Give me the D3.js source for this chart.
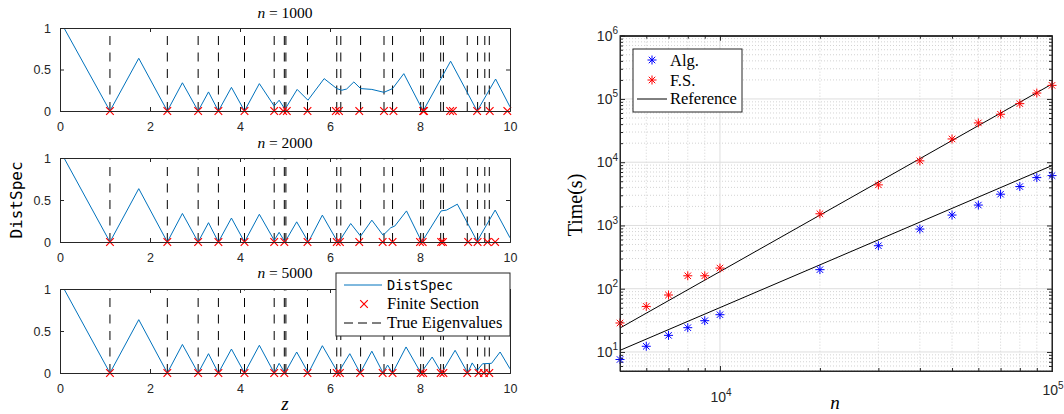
<!DOCTYPE html>
<html><head><meta charset="utf-8">
<script src="https://cdn.jsdelivr.net/npm/d3@7"></script>
<style>body{margin:0;background:#fff} svg{display:block}
.serif{font-family:"Liberation Serif","DejaVu Serif",serif}
</style>
</head><body><svg id="c" width="1064" height="414"></svg>
<script>
// ---------------- data: left panels ----------------
const trueEigenvalues = [1.11, 2.385, 3.07, 3.52, 4.10, 4.76, 4.985, 5.02, 5.50, 6.15, 6.24, 6.68, 7.20, 7.39, 8.015, 8.074, 8.46, 8.52, 9.05, 9.28, 9.44, 9.54];
const panelN = ["1000", "2000", "5000"];
const commonStart = [[0.09,1],[1.11,0],[1.75,0.635],[2.385,0],[2.72,0.34],[3.07,0],[3.30,0.23],[3.52,0],[3.81,0.285],[4.10,0],[4.43,0.33]];
const distSpec1000 = commonStart.concat([[4.76,0.06],[4.87,0.13],[5.0,0.02],[5.27,0.26],[5.51,0.13],[5.87,0.39],[6.15,0.27],[6.26,0.25],[6.37,0.265],[6.53,0.35],[6.68,0.27],[6.93,0.26],[7.2,0.225],[7.39,0.27],[7.64,0.45],[8.07,0],[8.68,0.60],[9.27,0],[9.68,0.385],[10,0.05]]);
const distSpec2000 = commonStart.concat([[4.76,0.02],[4.87,0.115],[5.0,0],[5.26,0.24],[5.52,0],[5.83,0.32],[6.17,0],[6.22,0.02],[6.46,0.22],[6.68,0.07],[6.93,0.26],[7.18,0.08],[7.35,0.17],[7.44,0.19],[7.70,0.37],[8.04,0],[8.47,0.37],[8.59,0.38],[8.83,0.45],[9.27,0.01],[9.67,0.38],[10,0.05]]);
const distSpec5000 = commonStart.concat([[4.76,0],[4.87,0.115],[5.0,0],[5.26,0.25],[5.52,0],[5.83,0.325],[6.18,0],[6.44,0.23],[6.67,0],[6.93,0.26],[7.18,0],[7.28,0.095],[7.39,0],[7.69,0.31],[8.02,0],[8.27,0.19],[8.48,0],[8.78,0.27],[9.06,0],[9.16,0.12],[9.27,0.03],[9.39,0.11],[9.59,0.115],[9.78,0.25],[10,0.05]]);
const fsCommon = [1.11, 2.385, 3.07, 3.52, 4.10];
const finiteSection1000 = fsCommon.concat([4.76, 4.96, 5.04, 5.50, 6.13, 6.20, 6.65, 7.20, 7.41, 8.07, 8.09, 8.67, 8.73, 9.27, 9.55, 9.94]);
const finiteSection2000 = fsCommon.concat([4.76, 4.985, 5.50, 6.15, 6.22, 6.65, 7.17, 7.39, 8.00, 8.06, 8.47, 8.51, 9.07, 9.28, 9.50, 9.67]);
const finiteSection5000 = fsCommon.concat([4.76, 4.985, 5.50, 6.15, 6.22, 6.67, 7.17, 7.39, 8.015, 8.07, 8.46, 8.52, 9.05, 9.30, 9.42, 9.54]);
const xTicksLeft = [0, 2, 4, 6, 8, 10];
const yTicksLeft = [0, 0.5, 1];
const yTickLabelsLeft = ["0", "0.5", "1"];

// ---------------- data: right panel ----------------
const sizesN = [5000, 6000, 7000, 8000, 9000, 10000, 20000, 30000, 40000, 50000, 60000, 70000, 80000, 90000, 100000];
const timeAlg = [7.6, 12.3, 18.3, 24.2, 31.2, 38.8, 200, 478, 877, 1460, 2100, 3120, 4120, 5710, 6140];
const timeFS = [28.7, 52.5, 79.5, 160, 160, 212, 1530, 4380, 10500, 23300, 41800, 57300, 84300, 124000, 164000];
const refAlgN = [5000, 100000], refAlgT = [10.6, 8840];
const refFSN = [5000, 100000], refFST = [23.9, 172000];
const yTickExpRight = [1, 2, 3, 4, 5, 6];
const xTickExpRight = [4, 5];

// ---------------- drawing ----------------
const svg = d3.select("#c");
const axisCol = "#262626";
const tickFont = "'Liberation Sans', Arial, sans-serif";
const mono = "'DejaVu Sans Mono', monospace";
const blue = "#0072BD";

const xL = d3.scaleLinear().domain([0, 10]).range([60, 510]);
const panels = [{top: 28, bottom: 111}, {top: 158, bottom: 242}, {top: 289, bottom: 373}];
const distData = [distSpec1000, distSpec2000, distSpec5000];
const fsData = [finiteSection1000, finiteSection2000, finiteSection5000];
const titleBase = [18, 148, 278];

const xMark = (g, cx, cy, r, col) => g.append("path")
  .attr("d", `M${cx-r},${cy-r}L${cx+r},${cy+r}M${cx-r},${cy+r}L${cx+r},${cy-r}`)
  .attr("stroke", col).attr("stroke-width", 1.2).attr("fill", "none");

panels.forEach((p, i) => {
  const y = d3.scaleLinear().domain([0, 1]).range([p.bottom, p.top]);
  const g = svg.append("g");
  const clipId = "clip" + i;
  svg.append("clipPath").attr("id", clipId).append("rect")
    .attr("x", 60).attr("y", p.top).attr("width", 450).attr("height", p.bottom - p.top);
  const pg = g.append("g").attr("clip-path", `url(#${clipId})`);
  pg.selectAll("line.eig").data(trueEigenvalues).join("line")
    .attr("x1", d => xL(d)).attr("x2", d => xL(d))
    .attr("y1", y(0)).attr("y2", y(1))
    .attr("stroke", "#000").attr("stroke-width", 1).attr("stroke-dasharray", "9,7.5");
  pg.append("path").datum(distData[i])
    .attr("d", d3.line().x(d => xL(d[0])).y(d => y(d[1])))
    .attr("fill", "none").attr("stroke", blue).attr("stroke-width", 1);
  fsData[i].forEach(v => xMark(g, xL(v), y(0), 3.8, "#FF0000"));
  const ax = d3.axisBottom(xL).tickValues(xTicksLeft).tickSize(-4).tickPadding(11).tickFormat(d3.format("d"));
  const gx = g.append("g").attr("transform", `translate(0,${p.bottom})`).call(ax);
  const gxt = g.append("g").attr("transform", `translate(0,${p.top})`)
    .call(d3.axisTop(xL).tickValues(xTicksLeft).tickSize(-4).tickFormat(""));
  const ay = d3.axisLeft(y).tickValues(yTicksLeft).tickSize(-4).tickPadding(9).tickFormat((d, k) => yTickLabelsLeft[k]);
  const gy = g.append("g").attr("transform", `translate(60,0)`).call(ay);
  const gyr = g.append("g").attr("transform", `translate(510,0)`)
    .call(d3.axisRight(y).tickValues(yTicksLeft).tickSize(-4).tickFormat(""));
  [gx, gxt, gy, gyr].forEach(a => {
    a.selectAll("path.domain").attr("stroke", axisCol);
    a.selectAll(".tick line").attr("stroke", axisCol);
    a.selectAll("text").attr("font-family", tickFont).attr("font-size", 12.5).attr("fill", axisCol);
  });
  const t = g.append("text").attr("class", "serif").attr("x", 285).attr("y", titleBase[i]).attr("text-anchor", "middle")
    .attr("font-size", 15.5).attr("fill", "#000");
  t.append("tspan").attr("font-style", "italic").text("n");
  t.append("tspan").text(" = " + panelN[i]);
});

svg.append("text").attr("transform", "translate(22,200) rotate(-90)").attr("text-anchor", "middle")
  .attr("font-family", mono).attr("font-size", 16).attr("fill", "#000").text("DistSpec");
svg.append("text").attr("class", "serif").attr("x", 285).attr("y", 410).attr("text-anchor", "middle")
  .attr("font-style", "italic").attr("font-size", 19).attr("fill", "#000").text("z");

// left legend
const lg = svg.append("g");
lg.append("rect").attr("x", 336).attr("y", 273).attr("width", 174).attr("height", 63)
  .attr("fill", "#fff").attr("stroke", axisCol).attr("stroke-width", 1);
lg.append("line").attr("x1", 344).attr("x2", 382).attr("y1", 285).attr("y2", 285).attr("stroke", blue).attr("stroke-width", 1);
lg.append("text").attr("x", 387).attr("y", 290).attr("font-family", mono).attr("font-size", 13.7).text("DistSpec");
xMark(lg, 364, 304, 3.8, "#FF0000");
lg.append("text").attr("class", "serif").attr("x", 387).attr("y", 309).attr("font-size", 16.5).text("Finite Section");
lg.append("line").attr("x1", 344).attr("x2", 382).attr("y1", 323).attr("y2", 323).attr("stroke", "#000").attr("stroke-dasharray", "9,5");
lg.append("text").attr("class", "serif").attr("x", 387).attr("y", 328).attr("font-size", 16.5).text("True Eigenvalues");

// ---------------- right chart ----------------
const xR = d3.scaleLog().domain([5000, 100000]).range([620, 1052]);
const yR = d3.scaleLog().domain([5, 1e6]).range([371, 35.7]);
const rg = svg.append("g");
const minorX = [6000, 7000, 8000, 9000, 20000, 30000, 40000, 50000, 60000, 70000, 80000, 90000];
const majorX = xTickExpRight.map(e => Math.pow(10, e));
const majorY = yTickExpRight.map(e => Math.pow(10, e));
const minorY = [];
for (let e = 0; e <= 5; e++) for (let m = 2; m <= 9; m++) { const v = m * Math.pow(10, e); if (v >= 5 && v <= 1e6) minorY.push(v); }

rg.selectAll("line.mgx").data(minorX).join("line").attr("x1", d => xR(d)).attr("x2", d => xR(d)).attr("y1", 35.7).attr("y2", 371)
  .attr("stroke", "#c8c8c8").attr("stroke-width", 0.8).attr("stroke-dasharray", "1,2");
rg.selectAll("line.mgy").data(minorY).join("line").attr("y1", d => yR(d)).attr("y2", d => yR(d)).attr("x1", 620).attr("x2", 1052)
  .attr("stroke", "#c8c8c8").attr("stroke-width", 0.8).attr("stroke-dasharray", "1,2");
rg.selectAll("line.Mgx").data(majorX).join("line").attr("x1", d => xR(d)).attr("x2", d => xR(d)).attr("y1", 35.7).attr("y2", 371)
  .attr("stroke", "#dedede").attr("stroke-width", 1);
rg.selectAll("line.Mgy").data(majorY).join("line").attr("y1", d => yR(d)).attr("y2", d => yR(d)).attr("x1", 620).attr("x2", 1052)
  .attr("stroke", "#dedede").attr("stroke-width", 1);

const mkAxes = (vals, size) => {
  const a = [
    rg.append("g").attr("transform", "translate(0,371)").call(d3.axisBottom(xR).tickValues(vals.x).tickSize(-size).tickFormat("")),
    rg.append("g").attr("transform", "translate(0,35.7)").call(d3.axisTop(xR).tickValues(vals.x).tickSize(-size).tickFormat("")),
    rg.append("g").attr("transform", "translate(620,0)").call(d3.axisLeft(yR).tickValues(vals.y).tickSize(-size).tickFormat("")),
    rg.append("g").attr("transform", "translate(1052,0)").call(d3.axisRight(yR).tickValues(vals.y).tickSize(-size).tickFormat(""))
  ];
  a.forEach(g => { g.selectAll("path.domain").attr("stroke", axisCol); g.selectAll(".tick line").attr("stroke", axisCol); });
};
mkAxes({x: minorX, y: minorY}, 3);
mkAxes({x: majorX, y: majorY}, 5);

const supLabel = (x, y, exp, anchor) => {
  const t = rg.append("text").attr("x", x).attr("y", y).attr("text-anchor", anchor)
    .attr("font-family", tickFont).attr("font-size", 14).attr("fill", axisCol);
  t.append("tspan").text("10");
  t.append("tspan").attr("dy", -6.5).attr("font-size", 10).text(exp);
};
yTickExpRight.forEach(e => supLabel(618, yR(Math.pow(10, e)) + 5, e, "end"));
const xLabBase = [402, 395];
xTickExpRight.forEach((e, k) => supLabel(xR(Math.pow(10, e)) + 1, xLabBase[k], e, "middle"));

const lineR = d3.line().x(d => xR(d[0])).y(d => yR(d[1]));
rg.append("path").datum(refAlgN.map((n, k) => [n, refAlgT[k]])).attr("d", lineR).attr("stroke", "#000").attr("fill", "none").attr("stroke-width", 1);
rg.append("path").datum(refFSN.map((n, k) => [n, refFST[k]])).attr("d", lineR).attr("stroke", "#000").attr("fill", "none").attr("stroke-width", 1);

const star = (g, cx, cy, col) => {
  const r = 4.5, d = r * 0.72;
  g.append("path").attr("d", `M${cx-r},${cy}H${cx+r}M${cx},${cy-r}V${cy+r}M${cx-d},${cy-d}L${cx+d},${cy+d}M${cx-d},${cy+d}L${cx+d},${cy-d}`)
    .attr("stroke", col).attr("stroke-width", 1).attr("fill", "none");
};
sizesN.forEach((n, k) => star(rg, xR(n), yR(timeAlg[k]), "#0000FF"));
sizesN.forEach((n, k) => star(rg, xR(n), yR(timeFS[k]), "#FF0000"));

rg.append("rect").attr("x", 620).attr("y", 35.7).attr("width", 432).attr("height", 335.3).attr("fill", "none").attr("stroke", axisCol).attr("stroke-width", 1);

const rl = svg.append("g");
rl.append("rect").attr("x", 633).attr("y", 49).attr("width", 109).attr("height", 63).attr("fill", "#fff").attr("stroke", axisCol).attr("stroke-width", 1);
star(rl, 652, 60, "#0000FF");
rl.append("text").attr("class", "serif").attr("x", 670).attr("y", 66).attr("font-size", 16.5).text("Alg.");
star(rl, 652, 80, "#FF0000");
rl.append("text").attr("class", "serif").attr("x", 670).attr("y", 86).attr("font-size", 16.5).text("F.S.");
rl.append("line").attr("x1", 637).attr("x2", 667).attr("y1", 99).attr("y2", 99).attr("stroke", "#000").attr("stroke-width", 1);
rl.append("text").attr("class", "serif").attr("x", 670).attr("y", 104).attr("font-size", 16.5).text("Reference");

svg.append("text").attr("class", "serif").attr("transform", "translate(582,205) rotate(-90)").attr("text-anchor", "middle")
  .attr("font-size", 20).attr("fill", "#000").text("Time(s)");
svg.append("text").attr("class", "serif").attr("x", 835).attr("y", 409).attr("text-anchor", "middle")
  .attr("font-style", "italic").attr("font-size", 19).attr("fill", "#000").text("n");
</script></body></html>
